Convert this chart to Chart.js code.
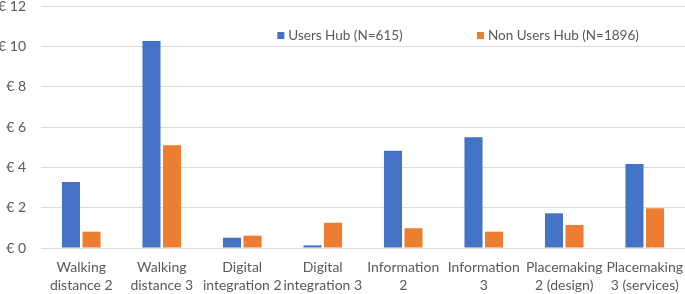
<!DOCTYPE html>
<html>
<head>
<meta charset="utf-8">
<script src="https://cdn.jsdelivr.net/npm/chart.js@4/dist/chart.umd.min.js"></script>
<style>
html,body{margin:0;padding:0;background:#fff;}
#wrap{width:685px;height:294px;position:relative;}
</style>
</head>
<body>
<div id="wrap"><canvas id="c"></canvas></div>
<script>
const categories = [
  ["Walking", "distance 2"],
  ["Walking", "distance 3"],
  ["Digital", "integration 2"],
  ["Digital", "integration 3"],
  ["Information", "2"],
  ["Information", "3"],
  ["Placemaking", "2 (design)"],
  ["Placemaking", "3 (services)"]
];
const seriesNames = ["Users Hub (N=615)", "Non Users Hub (N=1896)"];
const usersHub = [3.27, 10.26, 0.51, 0.13, 4.82, 5.49, 1.72, 4.16];
const nonUsersHub = [0.81, 5.10, 0.61, 1.25, 0.98, 0.81, 1.14, 1.97];
const yTicks = [0, 2, 4, 6, 8, 10, 12];

const FONT = "Lato, 'Open Sans', sans-serif";
const TEXT = "#595959";

const legendPlugin = {
  id: 'insideLegend',
  afterDraw(chart) {
    const ctx = chart.ctx;
    const ca = chart.chartArea;
    const w = ca.right - ca.left;
    const xs = [ca.left + w * 0.367, ca.left + w * 0.677];
    const y = 35.5;
    ctx.save();
    ctx.font = "13.5px " + FONT;
    ctx.textBaseline = 'middle';
    ctx.textAlign = 'left';
    chart.data.datasets.forEach((ds, i) => {
      ctx.fillStyle = ds.backgroundColor;
      ctx.fillRect(xs[i], y - 3.5, 7, 7);
      ctx.fillStyle = TEXT;
      ctx.fillText(ds.label, xs[i] + 11, y);
    });
    ctx.restore();
  }
};

new Chart(document.getElementById('c'), {
  type: 'bar',
  data: {
    labels: categories,
    datasets: [
      { label: seriesNames[0], data: usersHub, backgroundColor: '#4472C4' },
      { label: seriesNames[1], data: nonUsersHub, backgroundColor: '#ED7D31' }
    ]
  },
  options: {
    responsive: true,
    maintainAspectRatio: false,
    animation: false,
    devicePixelRatio: 1,
    layout: { padding: { top: 6, right: 0, left: 0, bottom: 0 } },
    datasets: { bar: { categoryPercentage: 0.51, barPercentage: 0.88 } },
    plugins: {
      legend: { display: false },
      tooltip: { enabled: false }
    },
    scales: {
      x: {
        grid: { display: false, drawTicks: false },
        border: { display: false },
        afterFit(scale) { scale.paddingLeft = 0; scale.paddingRight = 0; scale.height = 46; },
        ticks: {
          color: TEXT,
          font: { family: FONT, size: 14, lineHeight: 1.3 },
          maxRotation: 0,
          autoSkip: false,
          padding: 10
        }
      },
      y: {
        min: 0,
        max: 12,
        afterBuildTicks(scale) { scale.ticks = yTicks.map(v => ({ value: v })); },
        afterFit(scale) { scale.width = 41; scale.paddingTop = 0; scale.paddingBottom = 0; },
        grid: { color: '#D9D9D9', lineWidth: 1, drawTicks: false },
        border: { display: false },
        ticks: {
          color: TEXT,
          font: { family: FONT, size: 14 },
          padding: 15,
          callback: v => '€ ' + v
        }
      }
    }
  },
  plugins: [legendPlugin]
});
</script>
</body>
</html>
